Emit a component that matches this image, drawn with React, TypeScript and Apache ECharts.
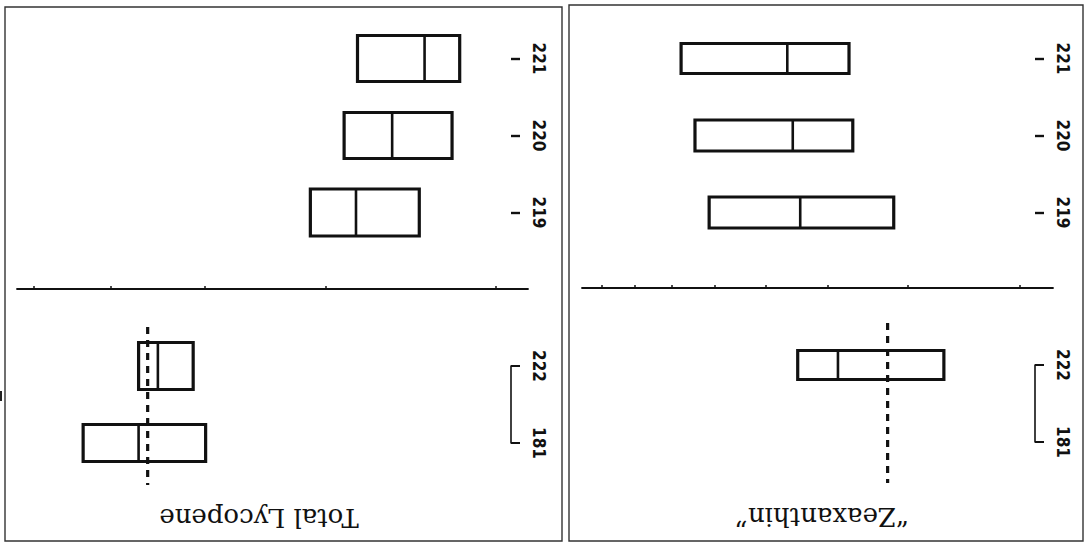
import React, { useEffect, useRef } from "react";
import * as echarts from "echarts";

// Category labels (top group of each panel and bracketed bottom group)
const topCategories = ["219", "220", "221"];
const bottomCategories = ["181", "222"];

// Box values per category: [Q1, median, Q3]
const lycopeneTop = [
  [2.4, 2.79, 3.11],
  [2.22, 2.56, 2.87],
  [2.18, 2.37, 2.78],
];
const lycopeneBottom = [
  [3.99, 4.68, 5.34],
  [4.11, 4.47, 4.68],
];
const lycopeneReference = 4.58;

const zeaxanthinTop = [
  [3.15, 4.41, 6.12],
  [3.65, 4.53, 6.44],
  [3.7, 4.62, 6.77],
];
const zeaxanthinBottom = [null, [2.63, 3.85, 4.45]];
const zeaxanthinReference = 3.22;

// Value axis (log scale) ticks and ranges
const lycopeneTicks = [2, 3, 4, 5, 6];
const zeaxanthinTicks = [2, 3, 4, 5, 6, 7, 8, 9];
const lycopeneRange = [1.853, 6.25];
const zeaxanthinRange = [1.776, 9.67];

// Titles
const lycopeneTitle = "Total Lycopene";
const zeaxanthinTitle = "\u201CZeaxanthin\u201D";

// Styling: box thickness in pixels per category
const lycTopThick = [47, 46, 46];
const lycBottomThick = [37, 47];
const zeaTopThick = [31, 31, 30];
const zeaBottomThick = [0, 29];

const INK = "#111";

function toBoxData(rows: (number[] | null)[]) {
  const out: number[][] = [];
  rows.forEach((r, i) => {
    if (r) out.push([r[0], r[1], r[2], i]);
  });
  return out;
}

const boxRender = (thick: number[]) => (params: any, api: any) => {
  const cat = api.value(3);
  const a = api.coord([api.value(0), cat]);
  const m = api.coord([api.value(1), cat]);
  const b = api.coord([api.value(2), cat]);
  const h = thick[cat];
  const x0 = Math.min(a[0], b[0]);
  const x1 = Math.max(a[0], b[0]);
  return {
    type: "group",
    children: [
      {
        type: "rect",
        shape: { x: x0, y: a[1] - h / 2, width: x1 - x0, height: h },
        style: { fill: "none", stroke: INK, lineWidth: 3.2 },
      },
      {
        type: "line",
        shape: { x1: m[0], y1: a[1] - h / 2, x2: m[0], y2: a[1] + h / 2 },
        style: { stroke: INK, lineWidth: 2.6 },
      },
    ],
  };
};

const refRender = (up: number, down: number) => (params: any, api: any) => {
  const t = api.coord([api.value(0), 1]);
  const b = api.coord([api.value(0), 0]);
  return {
    type: "line",
    shape: { x1: t[0], y1: t[1] - up, x2: t[0], y2: b[1] + down },
    style: { stroke: INK, lineWidth: 3.2, lineDash: [7, 6] },
  };
};

const labelStyle = {
  rotate: -90,
  margin: 19,
  fontSize: 17,
  fontWeight: "bold" as const,
  fontFamily: "'Liberation Sans Narrow', 'DejaVu Sans Condensed', 'Liberation Sans', sans-serif",
  color: INK,
};

function makeX(gridIndex: number, range: number[], ticks: number[], show: boolean) {
  return {
    type: "log",
    logBase: 10,
    gridIndex,
    inverse: true,
    min: range[0],
    max: range[1],
    show,
    position: "top",
    offset: 77,
    axisLine: { show: true, onZero: false, lineStyle: { color: INK, width: 1.8 } },
    axisTick: { show: true, customValues: ticks, length: 3, lineStyle: { color: INK, width: 1.5 } },
    axisLabel: { show: false },
    splitLine: { show: false },
  };
}

function makeYTop(gridIndex: number, offset: number) {
  return {
    type: "category",
    gridIndex,
    data: topCategories,
    position: "right",
    offset,
    axisLine: { show: false, onZero: false },
    axisTick: { show: true, alignWithLabel: true, length: 9, lineStyle: { color: INK, width: 2.4 } },
    axisLabel: labelStyle,
    splitLine: { show: false },
  };
}

function makeYBottom(gridIndex: number, offset: number) {
  return {
    type: "category",
    gridIndex,
    data: bottomCategories,
    boundaryGap: false,
    position: "right",
    offset,
    axisLine: { show: true, onZero: false, lineStyle: { color: INK, width: 1.6 } },
    axisTick: { show: true, length: 9, lineStyle: { color: INK, width: 2 } },
    axisLabel: labelStyle,
    splitLine: { show: false },
  };
}

export default function App() {
  const ref = useRef<HTMLDivElement>(null);
  useEffect(() => {
    if (!ref.current) return;
    const chart = echarts.init(ref.current, undefined, { renderer: "svg" });
    const titleFont = "26px 'DejaVu Serif', 'Liberation Serif', serif";
    chart.setOption({
      animation: false,
      backgroundColor: "#ffffff",
      grid: [
        { left: 17, top: 20, width: 511, height: 231 },
        { left: 17, top: 366, width: 511, height: 77 },
        { left: 582, top: 20, width: 471, height: 231 },
        { left: 582, top: 365, width: 471, height: 77 },
      ],
      xAxis: [
        makeX(0, lycopeneRange, lycopeneTicks, false),
        makeX(1, lycopeneRange, lycopeneTicks, true),
        makeX(2, zeaxanthinRange, zeaxanthinTicks, false),
        makeX(3, zeaxanthinRange, zeaxanthinTicks, true),
      ],
      yAxis: [makeYTop(0, -17), makeYBottom(1, -17), makeYTop(2, -18), makeYBottom(3, -18)],
      series: [
        {
          type: "custom",
          xAxisIndex: 0,
          yAxisIndex: 0,
          renderItem: boxRender(lycTopThick),
          encode: { x: [0, 1, 2], y: 3 },
          data: toBoxData(lycopeneTop),
        },
        {
          type: "custom",
          xAxisIndex: 1,
          yAxisIndex: 1,
          renderItem: boxRender(lycBottomThick),
          encode: { x: [0, 1, 2], y: 3 },
          data: toBoxData(lycopeneBottom),
        },
        {
          type: "custom",
          xAxisIndex: 2,
          yAxisIndex: 2,
          renderItem: boxRender(zeaTopThick),
          encode: { x: [0, 1, 2], y: 3 },
          data: toBoxData(zeaxanthinTop),
        },
        {
          type: "custom",
          xAxisIndex: 3,
          yAxisIndex: 3,
          renderItem: boxRender(zeaBottomThick),
          encode: { x: [0, 1, 2], y: 3 },
          data: toBoxData(zeaxanthinBottom),
        },
        {
          type: "custom",
          xAxisIndex: 1,
          yAxisIndex: 1,
          z: 5,
          renderItem: refRender(39, 42),
          encode: { x: 0 },
          data: [[lycopeneReference]],
        },
        {
          type: "custom",
          xAxisIndex: 3,
          yAxisIndex: 3,
          z: 5,
          renderItem: refRender(42, 41),
          encode: { x: 0 },
          data: [[zeaxanthinReference]],
        },
      ],
      graphic: [
        {
          type: "rect",
          shape: { x: 5, y: 7, width: 557, height: 534 },
          style: { fill: "none", stroke: "#333", lineWidth: 1.4 },
        },
        {
          type: "rect",
          shape: { x: 569, y: 5, width: 514, height: 536 },
          style: { fill: "none", stroke: "#333", lineWidth: 1.4 },
        },
        {
          type: "rect",
          shape: { x: 0, y: 391, width: 2, height: 10 },
          style: { fill: "#222" },
        },
        {
          type: "text",
          x: 259,
          y: 518,
          rotation: Math.PI,
          style: {
            text: lycopeneTitle,
            font: titleFont,
            fill: INK,
            textAlign: "center",
            textVerticalAlign: "middle",
            align: "center",
            verticalAlign: "middle",
          },
        },
        {
          type: "text",
          x: 822,
          y: 517,
          rotation: Math.PI,
          style: {
            text: zeaxanthinTitle,
            font: titleFont,
            fill: INK,
            textAlign: "center",
            textVerticalAlign: "middle",
            align: "center",
            verticalAlign: "middle",
          },
        },
      ],
    });
    return () => chart.dispose();
  }, []);
  return (
    <div
      ref={ref}
      style={{ position: "absolute", left: 0, top: 0, width: 1084, height: 544, background: "#fff" }}
    />
  );
}
